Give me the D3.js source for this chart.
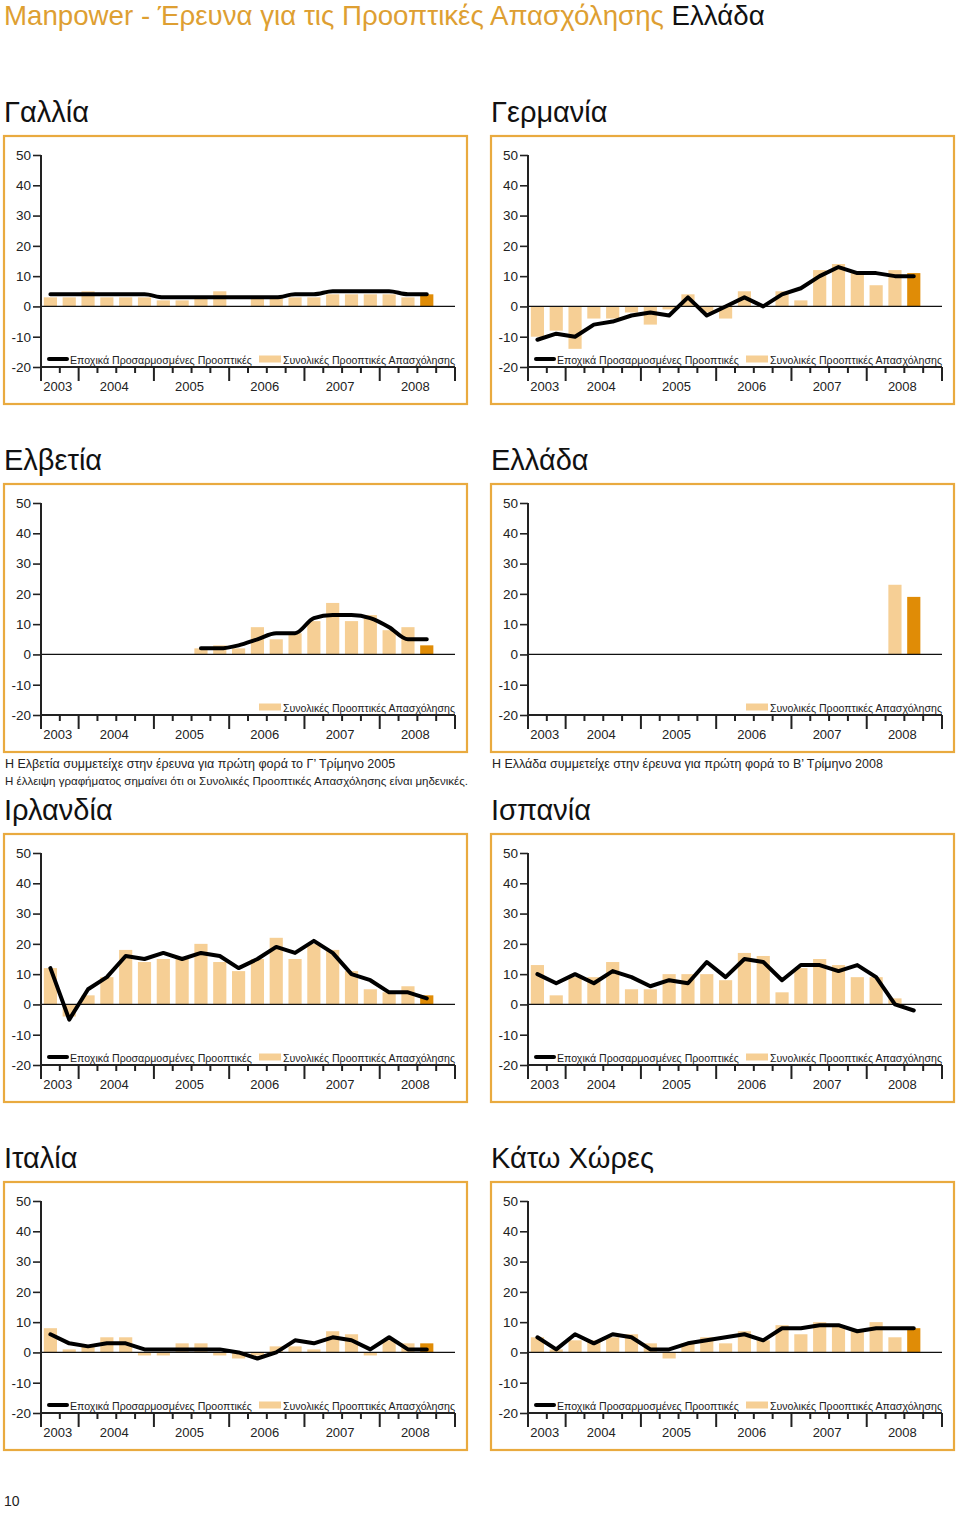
<!DOCTYPE html>
<html><head><meta charset="utf-8">
<script src="https://cdn.jsdelivr.net/npm/d3@7"></script>
<style>body{margin:0;background:#fff;} svg{display:block;font-family:"Liberation Sans",Arial,Helvetica,sans-serif;}</style>
</head><body><svg id="c" width="960" height="1517"></svg>
<script>
// ---------- DATA ----------
const years = ["2003","2004","2005","2006","2007","2008"];
const quartersPerYear = [2,4,4,4,4,4];
const quarters = ["2003 Γ","2003 Δ","2004 Α","2004 Β","2004 Γ","2004 Δ","2005 Α","2005 Β","2005 Γ","2005 Δ",
  "2006 Α","2006 Β","2006 Γ","2006 Δ","2007 Α","2007 Β","2007 Γ","2007 Δ","2008 Α","2008 Β","2008 Γ","2008 Δ"];
const yTicks = [50,40,30,20,10,0,-10,-20];
const currentQuarter = "2008 Γ";

const franceBars  = [3,3,5,3,3,3,2,2,3,5,0,3,3,3,3,4,4,4,4,3,4];
const franceLine  = [4,4,4,4,4,4,3,3,3,3,3,3,3,4,4,5,5,5,5,4,4];
const germanyBars = [-10,-8,-14,-4,-4,-2,-6,-1,4,-2,-4,5,0,5,2,12,14,11,7,12,11];
const germanyLine = [-11,-9,-10,-6,-5,-3,-2,-3,3,-3,0,3,0,4,6,10,13,11,11,10,10];
const swissBars   = [null,null,null,null,null,null,null,null,2,3,2,9,5,7,11,17,11,13,8,9,3];
const swissLine   = [null,null,null,null,null,null,null,null,2,2,3,5,7,7,12,13,13,12,9,5,5];
const greeceBars  = [null,null,null,null,null,null,null,null,null,null,null,null,null,null,null,null,null,null,null,23,19];
const greeceLine  = [];
const irelandBars = [12,-4,3,9,18,14,15,15,20,14,11,15,22,15,20,18,11,5,4,6,3];
const irelandLine = [12,-5,5,9,16,15,17,15,17,16,12,15,19,17,21,17,10,8,4,4,2];
const spainBars   = [13,3,9,9,14,5,5,10,10,10,8,17,16,4,12,15,13,9,9,2,0];
const spainLine   = [10,7,10,7,11,9,6,8,7,14,9,15,14,8,13,13,11,13,9,0,-2];
const italyBars   = [8,1,2,5,5,-1,-1,3,3,-1,-2,-1,2,2,1,7,6,-1,4,3,3];
const italyLine   = [6,3,2,3,3,1,1,1,1,1,0,-2,0,4,3,5,4,1,5,1,1];
const nlBars      = [5,1,4,4,5,6,3,-2,3,5,3,7,4,9,6,10,9,7,10,5,8];
const nlLine      = [5,1,6,3,6,5,1,1,3,4,5,6,4,8,8,9,9,7,8,8,8];

const countryNames = ["Γαλλία","Γερμανία","Ελβετία","Ελλάδα","Ιρλανδία","Ισπανία","Ιταλία","Κάτω Χώρες"];
const legendLine = "Εποχικά Προσαρμοσμένες Προοπτικές";
const legendBar  = "Συνολικές Προοπτικές Απασχόλησης";
const mainTitleA = "Manpower - Έρευνα για τις Προοπτικές Απασχόλησης ";
const mainTitleB = "Ελλάδα";
const swissNotes = ["Η Ελβετία συμμετείχε στην έρευνα για πρώτη φορά το Γ’ Τρίμηνο 2005",
  "Η έλλειψη γραφήματος σημαίνει ότι οι Συνολικές Προοπτικές Απασχόλησης είναι μηδενικές."];
const greeceNotes = ["Η Ελλάδα συμμετείχε στην έρευνα για πρώτη φορά το Β’ Τρίμηνο 2008"];
const pageNumber = "10";

// ---------- STYLE / LAYOUT ----------
const ORANGE = "#DE9F32", BORDER = "#E9AA3F", LIGHT = "#F6CF95", DARK = "#E08C06", INK = "#222";
const svg = d3.select("#c");
svg.append("rect").attr("width",960).attr("height",1517).attr("fill","#fff");

function fit(sel, w){
  const l = sel.node().getComputedTextLength();
  const fs = parseFloat(sel.attr("font-size"));
  if (l > 0) sel.attr("font-size", (fs*w/l).toFixed(2));
  return sel;
}

// main title
const mt = svg.append("text").attr("x",4).attr("y",25).attr("font-size",28).attr("fill",ORANGE);
mt.append("tspan").text(mainTitleA);
mt.append("tspan").attr("fill","#111").text(mainTitleB);
fit(mt, 761);

const panels = [
  {bars:franceBars,  line:franceLine,  col:0,row:0,legend:"both", smooth:true},
  {bars:germanyBars, line:germanyLine, col:1,row:0,legend:"both"},
  {bars:swissBars,   line:swissLine,   col:0,row:1,legend:"bar", smooth:true, notes:swissNotes, noteW:[390,463]},
  {bars:greeceBars,  line:greeceLine,  col:1,row:1,legend:"bar", notes:greeceNotes, noteW:[391]},
  {bars:irelandBars, line:irelandLine, col:0,row:2,legend:"both"},
  {bars:spainBars,   line:spainLine,   col:1,row:2,legend:"both"},
  {bars:italyBars,   line:italyLine,   col:0,row:3,legend:"both"},
  {bars:nlBars,      line:nlLine,      col:1,row:3,legend:"both"}
];
const colX = [4, 491], rowY = [136, 484, 834, 1182];
const BW = 463, BH = 268;

panels.forEach((p, i) => {
  const bx = colX[p.col], by = rowY[p.row];
  const g = svg.append("g");
  // country title
  g.append("text").attr("x", bx).attr("y", by-14).attr("font-size",29).attr("fill","#111").text(countryNames[i]);
  // box
  g.append("rect").attr("x",bx).attr("y",by).attr("width",BW).attr("height",BH)
    .attr("fill","none").attr("stroke",BORDER).attr("stroke-width",2.2);

  const ax0 = bx + 37, ax1 = ax0 + 414;
  const x = d3.scaleBand().domain(quarters).range([ax0, ax1]).paddingInner(0.3).paddingOuter(0.15);
  const y = d3.scaleLinear().domain([-20,50]).range([by+231, by+19]);
  const step = x.step();

  // bars
  const bd = quarters.map((q,k)=>({q, v: p.bars[k]})).filter(d => d.v != null && d.v !== 0);
  g.selectAll(".bar").data(bd).join("rect")
    .attr("x", d => x(d.q)).attr("width", x.bandwidth())
    .attr("y", d => y(Math.max(0,d.v))).attr("height", d => Math.abs(y(d.v)-y(0)))
    .attr("fill", d => d.q === currentQuarter ? DARK : LIGHT);

  // zero line
  g.append("line").attr("x1",ax0).attr("x2",ax1).attr("y1",y(0)).attr("y2",y(0))
    .attr("stroke","#111").attr("stroke-width",1.3);

  // y axis
  const yAx = g.append("g").attr("transform",`translate(${ax0},0)`)
    .call(d3.axisLeft(y).tickValues(yTicks).tickSize(8).tickPadding(2).tickFormat(d => String(d)));
  yAx.select(".domain").attr("stroke",INK).attr("stroke-width",2).attr("d",`M0,${y(50)}V${y(-20)}`);
  yAx.selectAll(".tick line").attr("stroke",INK).attr("stroke-width",1.6);
  yAx.selectAll(".tick text").attr("font-size",13.5).attr("fill",INK).attr("font-family","Liberation Sans, Arial, sans-serif");

  // x axis
  const yb = y(-20);
  g.append("line").attr("x1",ax0).attr("x2",ax1).attr("y1",yb).attr("y2",yb).attr("stroke",INK).attr("stroke-width",2);
  const yearBounds = [0]; quartersPerYear.forEach(n => yearBounds.push(yearBounds[yearBounds.length-1]+n));
  d3.range(quarters.length+1).forEach(k => {
    const long = yearBounds.includes(k);
    g.append("line").attr("x1",ax0+k*step).attr("x2",ax0+k*step).attr("y1",yb).attr("y2",yb+(long?14:6))
      .attr("stroke",INK).attr("stroke-width",2);
  });
  years.forEach((yr, j) => {
    const xa = ax0 + yearBounds[j]*step, xb = ax0 + yearBounds[j+1]*step;
    g.append("text").attr("x",(xa+xb)/2 - 2).attr("y",by+255).attr("text-anchor","middle")
      .attr("font-size",13).attr("fill",INK).text(yr);
  });

  // series line
  if (p.line.length) {
    const ld = quarters.map((q,k)=>({q, v: p.line[k]}));
    const line = d3.line().defined(d => d.v != null).curve(p.smooth ? d3.curveMonotoneX : d3.curveLinear)
      .x(d => x(d.q) + x.bandwidth()/2).y(d => y(d.v));
    g.append("path").attr("d", line(ld.slice(0, p.line.length))).attr("fill","none")
      .attr("stroke","#000").attr("stroke-width",4).attr("stroke-linejoin","round").attr("stroke-linecap","round");
  }

  // legend
  const ly = by + 223;
  g.append("rect").attr("x",ax1-196).attr("y",ly-3.5).attr("width",22).attr("height",7).attr("fill",LIGHT);
  fit(g.append("text").attr("x",ax1-172).attr("y",ly+4.5).attr("font-size",12).attr("fill",INK).text(legendBar), 172);
  if (p.legend === "both") {
    g.append("line").attr("x1",ax1-406).attr("x2",ax1-388).attr("y1",ly).attr("y2",ly)
      .attr("stroke","#000").attr("stroke-width",4).attr("stroke-linecap","round");
    fit(g.append("text").attr("x",ax1-385).attr("y",ly+4.5).attr("font-size",12).attr("fill",INK).text(legendLine), 182);
  }

  // notes
  if (p.notes) {
    p.notes.forEach((t, k) => {
      fit(svg.append("text").attr("x",bx+1).attr("y",by+BH+16+k*16.5).attr("font-size",13).attr("fill",INK).text(t), p.noteW[k]);
    });
  }
});

svg.append("text").attr("x",4).attr("y",1506).attr("font-size",14).attr("fill",INK).text(pageNumber);
</script></body></html>
